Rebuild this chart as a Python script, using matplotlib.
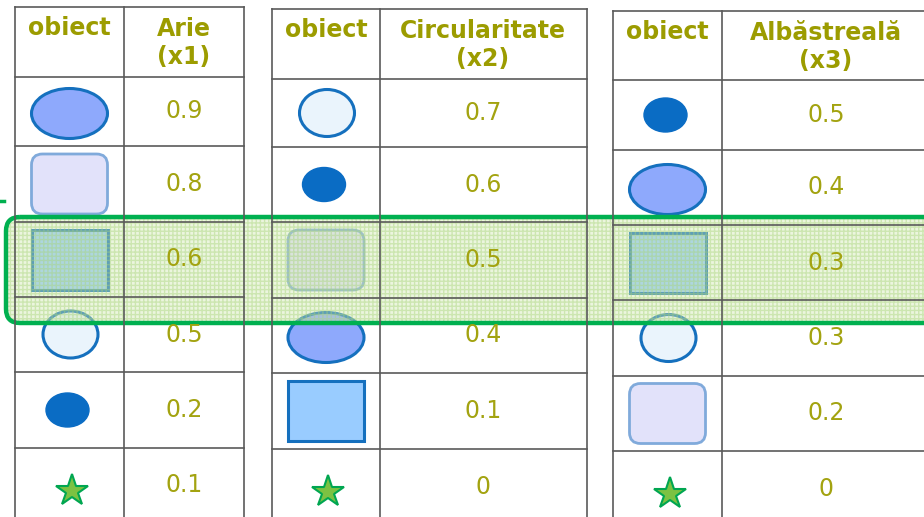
import numpy as np
import matplotlib.pyplot as plt
from matplotlib.patches import Ellipse, FancyBboxPatch, Rectangle

# date
antete = [('obiect', 'Arie\n(x1)'),
          ('obiect', 'Circularitate\n(x2)'),
          ('obiect', 'Albăstreală\n(x3)')]
obiecte1 = ['elipsa', 'rotunjit', 'patrat', 'cerc', 'punct', 'stea']
obiecte2 = ['cerc', 'punct', 'rotunjit', 'elipsa', 'patrat', 'stea']
obiecte3 = ['punct', 'elipsa', 'patrat', 'cerc', 'rotunjit', 'stea']
arie = [0.9, 0.8, 0.6, 0.5, 0.2, 0.1]
circularitate = [0.7, 0.6, 0.5, 0.4, 0.1, 0]
albastreala = [0.5, 0.4, 0.3, 0.3, 0.2, 0]

# asezare tabele (pixeli): stanga, separator, dreapta, centru coloana valori
coloane = [(15, 124, 244, 184), (272, 380, 587, 483), (613, 722, 935, 826)]
randuri = [[7, 77, 146, 222, 297, 372, 448, 523],
           [9, 79, 147, 222, 298, 373, 449, 524],
           [11, 80, 150, 225, 300, 376, 451, 527]]

olive = '#9c9c00'
albastru = '#1570be'

fig = plt.figure(figsize=(9.24, 5.17), dpi=100)
ax = fig.add_axes([0, 0, 1, 1])
ax.set_xlim(0, 924)
ax.set_ylim(517, 0)
ax.axis('off')


def deseneaza(tip, cx, cy):
    if tip == 'elipsa':
        ax.add_patch(Ellipse((cx, cy + 2), 76, 50, fc='#8ea9fc', ec=albastru, lw=2.2))
    elif tip == 'punct':
        ax.add_patch(Ellipse((cx - 2, cy), 43, 34, fc='#0a6cc4', ec='#0a6cc4', lw=1))
    elif tip == 'cerc':
        ax.add_patch(Ellipse((cx + 1, cy), 55, 47, fc='#eaf4fc', ec=albastru, lw=2.2))
    elif tip == 'rotunjit':
        ax.add_patch(FancyBboxPatch((cx - 38 + 11, cy - 30 + 11), 76 - 22, 60 - 22,
                                    boxstyle='round,pad=11', fc='#e2e2fa',
                                    ec='#80aadb', lw=2))
    elif tip == 'patrat':
        ax.add_patch(Rectangle((cx - 38, cy - 30), 76, 60, fc='#99ccff', ec=albastru, lw=2.2))
    elif tip == 'stea':
        ax.plot(cx + 2, cy + 5, marker='*', ms=24, mfc='#7cc242', mec='#00a651', mew=1.5)


for k, (obiecte, valori) in enumerate([(obiecte1, arie), (obiecte2, circularitate),
                                       (obiecte3, albastreala)]):
    x0, xm, x1, xv = coloane[k]
    ys = randuri[k]
    for y in ys:
        ax.plot([x0, x1], [y, y], color='#5a5a5a', lw=1.2)
    for x in (x0, xm, x1):
        ax.plot([x, x], [ys[0], ys[-1]], color='#5a5a5a', lw=1.2)
    ax.text((x0 + xm) / 2, ys[0] + 21, antete[k][0], ha='center', va='center',
            fontsize=17, fontweight='bold', color=olive)
    ax.text(xv, ys[0] + 36, antete[k][1], ha='center', va='center', fontsize=17,
            fontweight='bold', color=olive, linespacing=1.2)
    for i in range(6):
        cy = (ys[i + 1] + ys[i + 2]) / 2
        deseneaza(obiecte[i], (x0 + xm) / 2, cy)
        ax.text(xv, cy, f'{valori[i]:g}', ha='center', va='center',
                fontsize=17, color='#a3a310')

# rand evidentiat
ax.add_patch(FancyBboxPatch((20, 231), 930, 78, boxstyle='round,pad=14',
                            fc='#cde6ad', ec='none', alpha=0.4))
ax.add_patch(FancyBboxPatch((20, 231), 930, 78, boxstyle='round,pad=14',
                            fc='none', ec='#a8d47a', lw=0, hatch='++++', alpha=0.45))
ax.add_patch(FancyBboxPatch((20, 231), 930, 78, boxstyle='round,pad=14',
                            fc='none', ec='#00b050', lw=3.2))
ax.plot([0, 4], [201, 201], color='#00b050', lw=2.5)

fig.savefig('out.png', dpi=100)
